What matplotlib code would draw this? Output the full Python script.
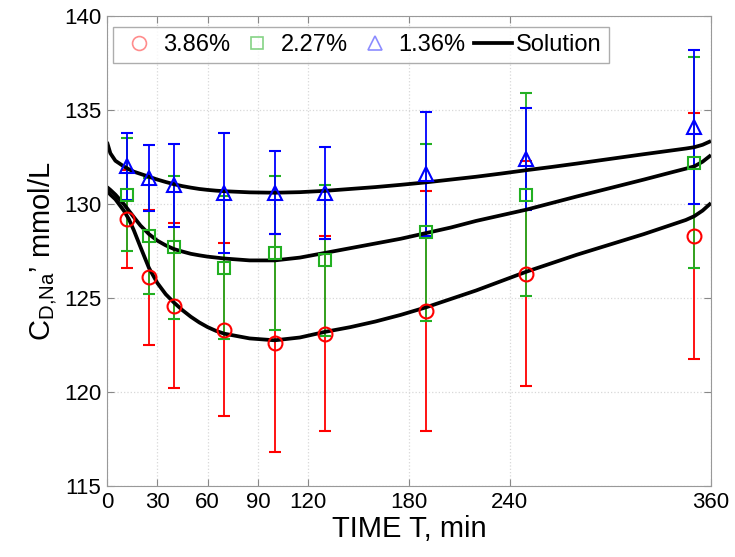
import matplotlib
matplotlib.use("Agg")
import matplotlib.pyplot as plt
from matplotlib.lines import Line2D

plt.rcParams['font.family'] = ['Liberation Sans', 'DejaVu Sans']
plt.rcParams['mathtext.fontset'] = 'custom'
plt.rcParams['mathtext.rm'] = 'Liberation Sans'
plt.rcParams['mathtext.it'] = 'Liberation Sans'

# measured points (time in min)
t_meas = [12, 25, 40, 70, 100, 130, 190, 250, 350]

c386 = [129.2, 126.1, 124.6, 123.3, 122.6, 123.1, 124.3, 126.3, 128.3]
e386 = [2.6, 3.6, 4.4, 4.6, 5.8, 5.2, 6.4, 6.0, 6.55]

c227 = [130.5, 128.3, 127.7, 126.6, 127.4, 127.0, 128.5, 130.5, 132.2]
e227 = [3.0, 3.1, 3.8, 3.8, 4.1, 4.0, 4.7, 5.4, 5.6]

c136 = [132.0, 131.4, 131.0, 130.6, 130.6, 130.6, 131.6, 132.4, 134.1]
e136 = [1.8, 1.75, 2.2, 3.2, 2.2, 2.45, 3.3, 2.7, 4.1]

# model solution curves
t_sol = [0, 2, 5, 10, 13, 16, 20, 25, 30, 35, 40, 45, 50, 55, 60, 65, 70,
         85, 100, 115, 130, 145, 160, 175, 190, 205, 220, 235, 250, 265,
         280, 300, 320, 335, 345, 350, 355, 360]
sol386 = [130.7, 130.5, 130.25, 129.65, 129.2, 128.6, 127.7, 126.6, 125.8,
          125.2, 124.75, 124.35, 124.0, 123.7, 123.45, 123.25, 123.1,
          122.85, 122.75, 122.9, 123.2, 123.45, 123.75, 124.1, 124.5,
          124.95, 125.4, 125.9, 126.4, 126.85, 127.3, 127.85, 128.4,
          128.85, 129.15, 129.35, 129.65, 130.05]
sol227 = [130.9, 130.75, 130.5, 130.0, 129.65, 129.3, 128.85, 128.4, 128.05,
          127.8, 127.6, 127.47, 127.35, 127.27, 127.2, 127.15, 127.1,
          127.0, 127.0, 127.15, 127.4, 127.65, 127.9, 128.15, 128.45,
          128.75, 129.1, 129.4, 129.7, 130.05, 130.4, 130.85, 131.3,
          131.65, 131.88, 132.0, 132.25, 132.6]
sol136 = [133.3, 132.7, 132.3, 132.0, 131.85, 131.72, 131.6, 131.45, 131.3,
          131.17, 131.05, 130.95, 130.87, 130.8, 130.75, 130.71, 130.68,
          130.62, 130.6, 130.63, 130.7, 130.8, 130.9, 131.02, 131.15,
          131.3, 131.45, 131.62, 131.8, 131.97, 132.15, 132.4, 132.65,
          132.83, 132.95, 133.02, 133.15, 133.35]

xticks = [0, 30, 60, 90, 120, 180, 240, 360]
yticks = [115, 120, 125, 130, 135, 140]

red = '#ff0000'
green = '#22b022'
blue = '#0000ff'

fig = plt.figure(figsize=(7.35, 5.57), dpi=100)
ax = fig.add_axes([107/735, 1 - 486/557, 604/735, 470/557])

ax.errorbar(t_meas, c386, yerr=e386, fmt='o', color=red, mfc='none', ms=10,
            mew=1.5, elinewidth=1.3, capsize=4, capthick=1.3)
ax.errorbar(t_meas, c227, yerr=e227, fmt='s', color=green, mfc='none', ms=8,
            mew=1.5, elinewidth=1.3, capsize=4, capthick=1.3)
ax.errorbar(t_meas, c136, yerr=e136, fmt='^', color=blue, mfc='none', ms=10,
            mew=1.5, elinewidth=1.3, capsize=4, capthick=1.3)

for s in [sol386, sol227, sol136]:
    ax.plot(t_sol, s, color='black', lw=2.7, solid_capstyle='butt',
            solid_joinstyle='round')

ax.set_xlim(0, 360)
ax.set_ylim(115, 140)
ax.set_xticks(xticks)
ax.set_yticks(yticks)
ax.tick_params(direction='in', top=True, right=True, labelsize=16,
               color='#888888', length=5, pad=4)
ax.grid(True, color='#d8d8d8', linestyle=':', linewidth=0.9)
for sp in ax.spines.values():
    sp.set_color('#999999')

ax.set_xlabel('TIME T, min', fontsize=21, labelpad=2)
ax.set_ylabel(r'C$_{\mathrm{D{,}Na}}$’ mmol/L', fontsize=21, labelpad=4)

handles = [
    Line2D([], [], marker='o', ls='none', mfc='none', mec=red, ms=10, mew=1.2, alpha=0.45),
    Line2D([], [], marker='s', ls='none', mfc='none', mec=green, ms=8, mew=1.2, alpha=0.55),
    Line2D([], [], marker='^', ls='none', mfc='none', mec=blue, ms=10, mew=1.2, alpha=0.45),
    Line2D([], [], color='black', lw=2.7),
]
leg = ax.legend(handles, ['3.86%', '2.27%', '1.36%', 'Solution'], ncol=4,
                loc='upper left', bbox_to_anchor=(6/604, 1 - 11/470),
                fontsize=17, frameon=True, fancybox=False, handlelength=1.6,
                handletextpad=0.2, columnspacing=0.35, borderpad=0.3,
                borderaxespad=0)
leg.get_frame().set_edgecolor('#999999')
leg.get_frame().set_linewidth(1.0)

fig.savefig('out.png', dpi=100)
